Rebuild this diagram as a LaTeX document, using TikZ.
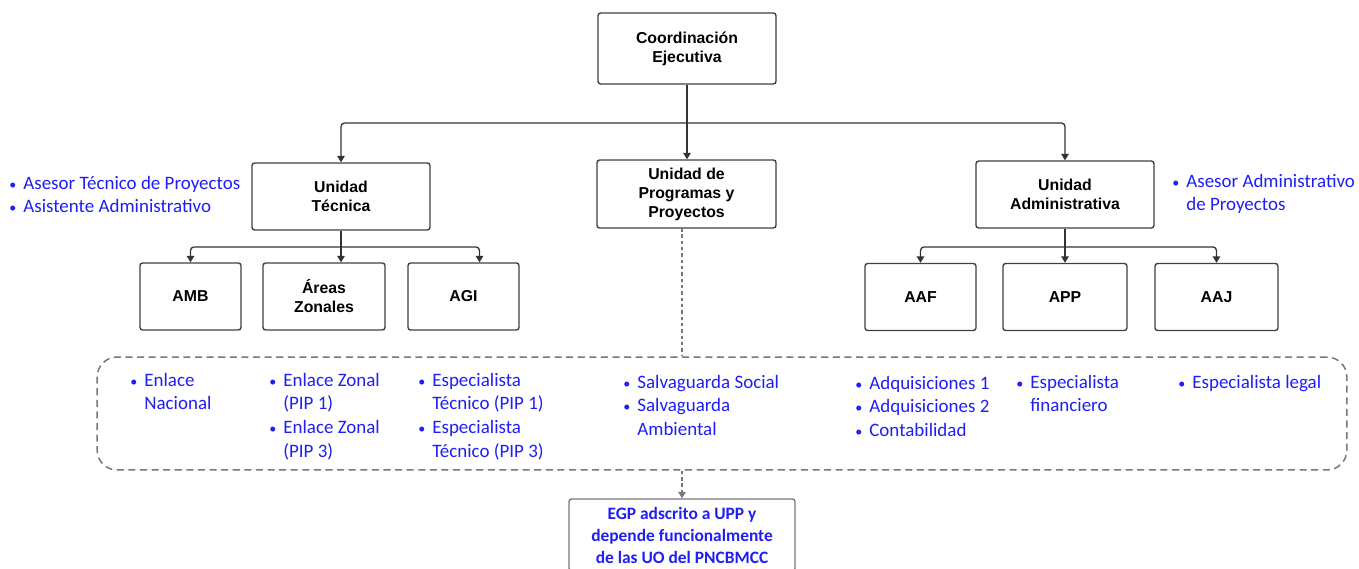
\documentclass[tikz,border=0pt]{standalone}
\usepackage{fontspec}
\setmainfont{Liberation Sans}
\newfontfamily\carl{Carlito}
\usetikzlibrary{arrows.meta,calc}
\definecolor{blu}{RGB}{30,30,245}
\definecolor{dgray}{RGB}{120,120,120}
\newcommand\itm{\llap{{\fontsize{8}{8}\selectfont\textbullet}\hspace{4pt}}}
\begin{document}
\begin{tikzpicture}[x=0.02cm,y=-0.02cm,
 box/.style={draw=black!75, line width=0.8pt, rounded corners=1.5pt, fill=white, align=center,
   font=\bfseries\fontsize{9}{10.8}\selectfont, inner sep=0pt},
 conn/.style={draw=black!80, line width=0.75pt, rounded corners=2pt},
 arr/.style={conn, -{Triangle[width=4.2pt,length=3.6pt]}},
 dashl/.style={draw=dgray, line width=0.6pt, dash pattern=on 2pt off 1.6pt},
 dbox/.style={draw=dgray, line width=0.85pt, dash pattern=on 4pt off 2.6pt, rounded corners=0.4cm, inner sep=0pt},
 blist/.style={text=blu, font=\carl\fontsize{10.8}{13.5}\selectfont, anchor=base west, inner sep=0pt},
 egp/.style={draw=dgray, line width=0.8pt, rounded corners=1.5pt, align=center, text=blu,
   font=\carl\bfseries\fontsize{9.9}{12.5}\selectfont, inner sep=0pt}
]
\useasboundingbox (0,0) rectangle (1359,568);
\clip (0,0) rectangle (1359,568);

% main boxes
\node[box, minimum width=3.56cm, minimum height=1.42cm] (CE) at (687,48.5) {Coordinación\\Ejecutiva};
\node[box, minimum width=3.56cm, minimum height=1.34cm] (UT) at (341,196.5) {Unidad\\Técnica};
\node[box, minimum width=3.58cm, minimum height=1.36cm] (UPP) at (686.5,194) {Unidad de\\Programas y\\Proyectos};
\node[box, minimum width=3.56cm, minimum height=1.34cm] (UA) at (1065,194.5) {Unidad\\Administrativa};

\node[box, minimum width=2.02cm, minimum height=1.34cm] (AMB) at (190.5,296.5) {AMB};
\node[box, minimum width=2.44cm, minimum height=1.34cm] (AZ) at (324,296.5) {Áreas\\Zonales};
\node[box, minimum width=2.22cm, minimum height=1.34cm] (AGI) at (463.5,296.5) {AGI};

\node[box, minimum width=2.22cm, minimum height=1.34cm] (AAF) at (920.5,297) {AAF};
\node[box, minimum width=2.48cm, minimum height=1.34cm] (APP) at (1065,297) {APP};
\node[box, minimum width=2.46cm, minimum height=1.34cm] (AAJ) at (1216.5,297) {AAJ};

% dashed container and EGP box
\node[dbox, minimum width=25cm, minimum height=2.26cm] (DB) at (722,413.5) {};
\node[egp, minimum width=4.52cm, minimum height=1.44cm] (EGP) at (682,535) {EGP adscrito a UPP y\\depende funcionalmente\\de las UO del PNCBMCC};

% connectors from Coordinación
\coordinate (j0) at (687,123);
\draw[conn] (CE.south) -- (j0);
\draw[arr] (j0) -| (UT.north);
\draw[arr] (j0) -| (UA.north);
\draw[arr] (j0) -- (j0 |- UPP.north);

% Unidad Técnica children
\coordinate (j1) at (341,247);
\draw[conn] (UT.south) -- (j1);
\draw[arr] (j1) -| (AMB.north);
\draw[arr] (j1) -- (j1 |- AZ.north);
\draw[arr] (j1) -| ([xshift=0.32cm]AGI.north);

% Unidad Administrativa children
\coordinate (j2) at (1065,247);
\draw[conn] (UA.south) -- (j2);
\draw[arr] (j2) -| (AAF.north);
\draw[arr] (j2) -- (j2 |- APP.north);
\draw[arr] (j2) -| (AAJ.north);

% dotted links UPP -> container -> EGP
\coordinate (dtop) at (682,228);
\draw[dashl] (dtop) -- (dtop |- DB.north);
\draw[dashl, -{Triangle[width=4.2pt,length=3.6pt]}] (dtop |- DB.south) -- (EGP.north);

% side lists
\node[blist] (LT) at (23,189) {\begin{tabular}[t]{@{}l@{}}\itm Asesor Técnico de Proyectos\\\itm Asistente Administrativo\end{tabular}};
\node[blist] (RT) at (1186,187) {\begin{tabular}[t]{@{}l@{}}\itm Asesor Administrativo\\de Proyectos\end{tabular}};

% lists inside container
\node[blist] (c1) at (144,386) {\begin{tabular}[t]{@{}l@{}}\itm Enlace\\Nacional\end{tabular}};
\node[blist] (c2) at (283,386) {\begin{tabular}[t]{@{}l@{}}\itm Enlace Zonal\\(PIP 1)\\\itm Enlace Zonal\\(PIP 3)\end{tabular}};
\node[blist] (c3) at (432,386) {\begin{tabular}[t]{@{}l@{}}\itm Especialista\\Técnico (PIP 1)\\\itm Especialista\\Técnico (PIP 3)\end{tabular}};
\node[blist] (c4) at (637,388) {\begin{tabular}[t]{@{}l@{}}\itm Salvaguarda Social\\\itm Salvaguarda\\Ambiental\end{tabular}};
\node[blist] (c5) at (869,389) {\begin{tabular}[t]{@{}l@{}}\itm Adquisiciones 1\\\itm Adquisiciones 2\\\itm Contabilidad\end{tabular}};
\node[blist] (c6) at (1030,388) {\begin{tabular}[t]{@{}l@{}}\itm Especialista\\financiero\end{tabular}};
\node[blist] (c7) at (1192,388) {\begin{tabular}[t]{@{}l@{}}\itm Especialista legal\end{tabular}};
\end{tikzpicture}
\end{document}
